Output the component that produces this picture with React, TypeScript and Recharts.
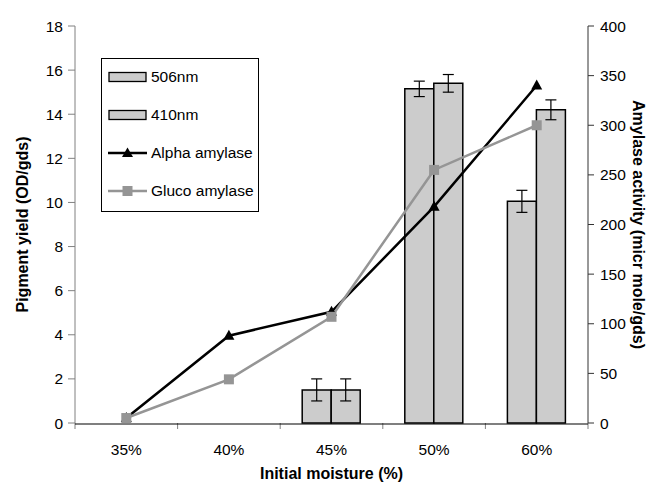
import React from "react";
import {
  ComposedChart,
  Bar,
  Line,
  XAxis,
  YAxis,
  ErrorBar,
} from "recharts";

// moisture levels on the x axis
const moisture = ["35%", "40%", "45%", "50%", "60%"];
// pigment yield (OD/gds) at two wavelengths, with error
const yield506 = [0, 0, 1.5, 15.15, 10.05];
const err506 = [0, 0, 0.5, 0.35, 0.5];
const yield410 = [0, 0, 1.5, 15.4, 14.2];
const err410 = [0, 0, 0.5, 0.4, 0.45];
// amylase activity (micr mole/gds)
const alphaAmylase = [5, 88, 112, 218, 340];
const glucoAmylase = [5, 44, 107, 255, 300];

const leftTicks = [0, 2, 4, 6, 8, 10, 12, 14, 16, 18];
const rightTicks = [0, 50, 100, 150, 200, 250, 300, 350, 400];
const edgeTicks = [0, 1, 2, 3, 4, 5];

const data = moisture.map((m, i) => ({
  m,
  y506: yield506[i],
  e506: err506[i],
  y410: yield410[i],
  e410: err410[i],
  alpha: alphaAmylase[i],
  gluco: glucoAmylase[i],
  pos: i + 0.5,
}));

const FONT = '"Liberation Sans", Arial, sans-serif';
const BAR_FILL = "#cccccc";
const GLUCO = "#959595";

const Triangle = (p: any) => {
  const { cx, cy, index } = p;
  return (
    <polygon
      key={`t${index}`}
      points={`${cx},${cy - 6} ${cx - 5.5},${cy + 4} ${cx + 5.5},${cy + 4}`}
      fill="#000"
    />
  );
};

const Square = (p: any) => {
  const { cx, cy, index } = p;
  return <rect key={`s${index}`} x={cx - 5} y={cy - 5} width={10} height={10} fill={GLUCO} />;
};

// empty tick label, keeps only the tick marks on the band edges
const NoLabel = () => <g />;

const legendRows = [
  { name: "506nm", kind: "bar" },
  { name: "410nm", kind: "bar" },
  { name: "Alpha amylase", kind: "alpha" },
  { name: "Gluco amylase", kind: "gluco" },
];

const LegendBox = () => (
  <div
    style={{
      position: "absolute",
      left: 101,
      top: 58,
      border: "1px solid #000",
      background: "#fff",
      width: 158,
      height: 154,
      boxSizing: "border-box",
      fontFamily: FONT,
      fontSize: 15.5,
      color: "#000",
    }}
  >
    {legendRows.map((r, i) => (
      <div
        key={r.name}
        style={{ position: "absolute", left: 6, top: 9 + i * 38, display: "flex", alignItems: "center", height: 18 }}
      >
        <svg width={40} height={14} style={{ marginRight: 3 }}>
          {r.kind === "bar" && (
            <rect x={1} y={2.5} width={37} height={9} fill={BAR_FILL} stroke="#000" strokeWidth={1.3} />
          )}
          {r.kind === "alpha" && (
            <>
              <line x1={0} y1={7} x2={39} y2={7} stroke="#000" strokeWidth={2.5} />
              <polygon points="19.5,1.5 14,11 25,11" fill="#000" />
            </>
          )}
          {r.kind === "gluco" && (
            <>
              <line x1={0} y1={7} x2={39} y2={7} stroke={GLUCO} strokeWidth={2.5} />
              <rect x={14.5} y={2} width={10} height={10} fill={GLUCO} />
            </>
          )}
        </svg>
        <span style={{ whiteSpace: "nowrap" }}>{r.name}</span>
      </div>
    ))}
  </div>
);

const LeftTitle = (props: any) => {
  const { viewBox } = props;
  const cy = viewBox.y + viewBox.height / 2;
  return (
    <text
      x={22}
      y={cy}
      transform={`rotate(-90, 22, ${cy})`}
      textAnchor="middle"
      dominantBaseline="central"
      fontFamily={FONT}
      fontSize={16}
      fontWeight="bold"
      fill="#000"
    >
      Pigment yield (OD/gds)
    </text>
  );
};

const RightTitle = (props: any) => {
  const { viewBox } = props;
  const cy = viewBox.y + viewBox.height / 2;
  return (
    <text
      x={638}
      y={cy}
      transform={`rotate(90, 638, ${cy})`}
      textAnchor="middle"
      dominantBaseline="central"
      fontFamily={FONT}
      fontSize={16}
      fontWeight="bold"
      fill="#000"
    >
      Amylase activity (micr mole/gds)
    </text>
  );
};

const tickStyle = { fontFamily: FONT, fontSize: 15.5, fill: "#000" };

export default function App() {
  return (
    <div style={{ position: "absolute", left: 0, top: 0, width: 656, height: 485, background: "#fff" }}>
      <ComposedChart
        width={656}
        height={485}
        data={data}
        margin={{ top: 26, right: 8, bottom: 1, left: 0 }}
        barGap={0}
      >
        <XAxis
          xAxisId="a"
          type="number"
          dataKey="pos"
          domain={[0, 5]}
          ticks={edgeTicks}
          interval={0}
          height={1}
          axisLine={false}
          tick={<NoLabel />}
          tickLine={{ stroke: "#808080" }}
          tickSize={6}
          allowDataOverflow
        />
        <XAxis
          xAxisId="b"
          dataKey="m"
          height={60}
          axisLine={{ stroke: "#000", strokeWidth: 1.2 }}
          tickLine={false}
          tick={tickStyle}
          tickMargin={14}
          label={{
            value: "Initial moisture (%)",
            position: "insideBottom",
            offset: 5,
            style: { fontFamily: FONT, fontSize: 16, fontWeight: "bold", fill: "#000" },
          }}
        />
        <YAxis
          yAxisId="left"
          width={75}
          domain={[0, 18]}
          ticks={leftTicks}
          interval={0}
          axisLine={{ stroke: "#808080" }}
          tickLine={{ stroke: "#808080" }}
          tickSize={7}
          tickMargin={5}
          tick={tickStyle}
          label={<LeftTitle />}
        />
        <YAxis
          yAxisId="right"
          orientation="right"
          width={60}
          domain={[0, 400]}
          ticks={rightTicks}
          interval={0}
          axisLine={{ stroke: "#333" }}
          tickLine={{ stroke: "#333" }}
          tickSize={6}
          tickMargin={6}
          tick={tickStyle}
          label={<RightTitle />}
        />
        <Bar xAxisId="b" yAxisId="left" dataKey="y506" name="506nm" fill={BAR_FILL} stroke="#000" strokeWidth={1.5} barSize={29} isAnimationActive={false}>
          <ErrorBar dataKey="e506" width={5.5} stroke="#000" strokeWidth={1.2} />
        </Bar>
        <Bar xAxisId="b" yAxisId="left" dataKey="y410" name="410nm" fill={BAR_FILL} stroke="#000" strokeWidth={1.5} barSize={29} isAnimationActive={false}>
          <ErrorBar dataKey="e410" width={5.5} stroke="#000" strokeWidth={1.2} />
        </Bar>
        <Line
          xAxisId="b"
          yAxisId="right"
          dataKey="alpha"
          name="Alpha amylase"
          stroke="#000"
          strokeWidth={2.5}
          dot={Triangle}
          activeDot={false}
          isAnimationActive={false}
        />
        <Line
          xAxisId="b"
          yAxisId="right"
          dataKey="gluco"
          name="Gluco amylase"
          stroke={GLUCO}
          strokeWidth={2.5}
          dot={Square}
          activeDot={false}
          isAnimationActive={false}
        />
      </ComposedChart>
      <LegendBox />
    </div>
  );
}
